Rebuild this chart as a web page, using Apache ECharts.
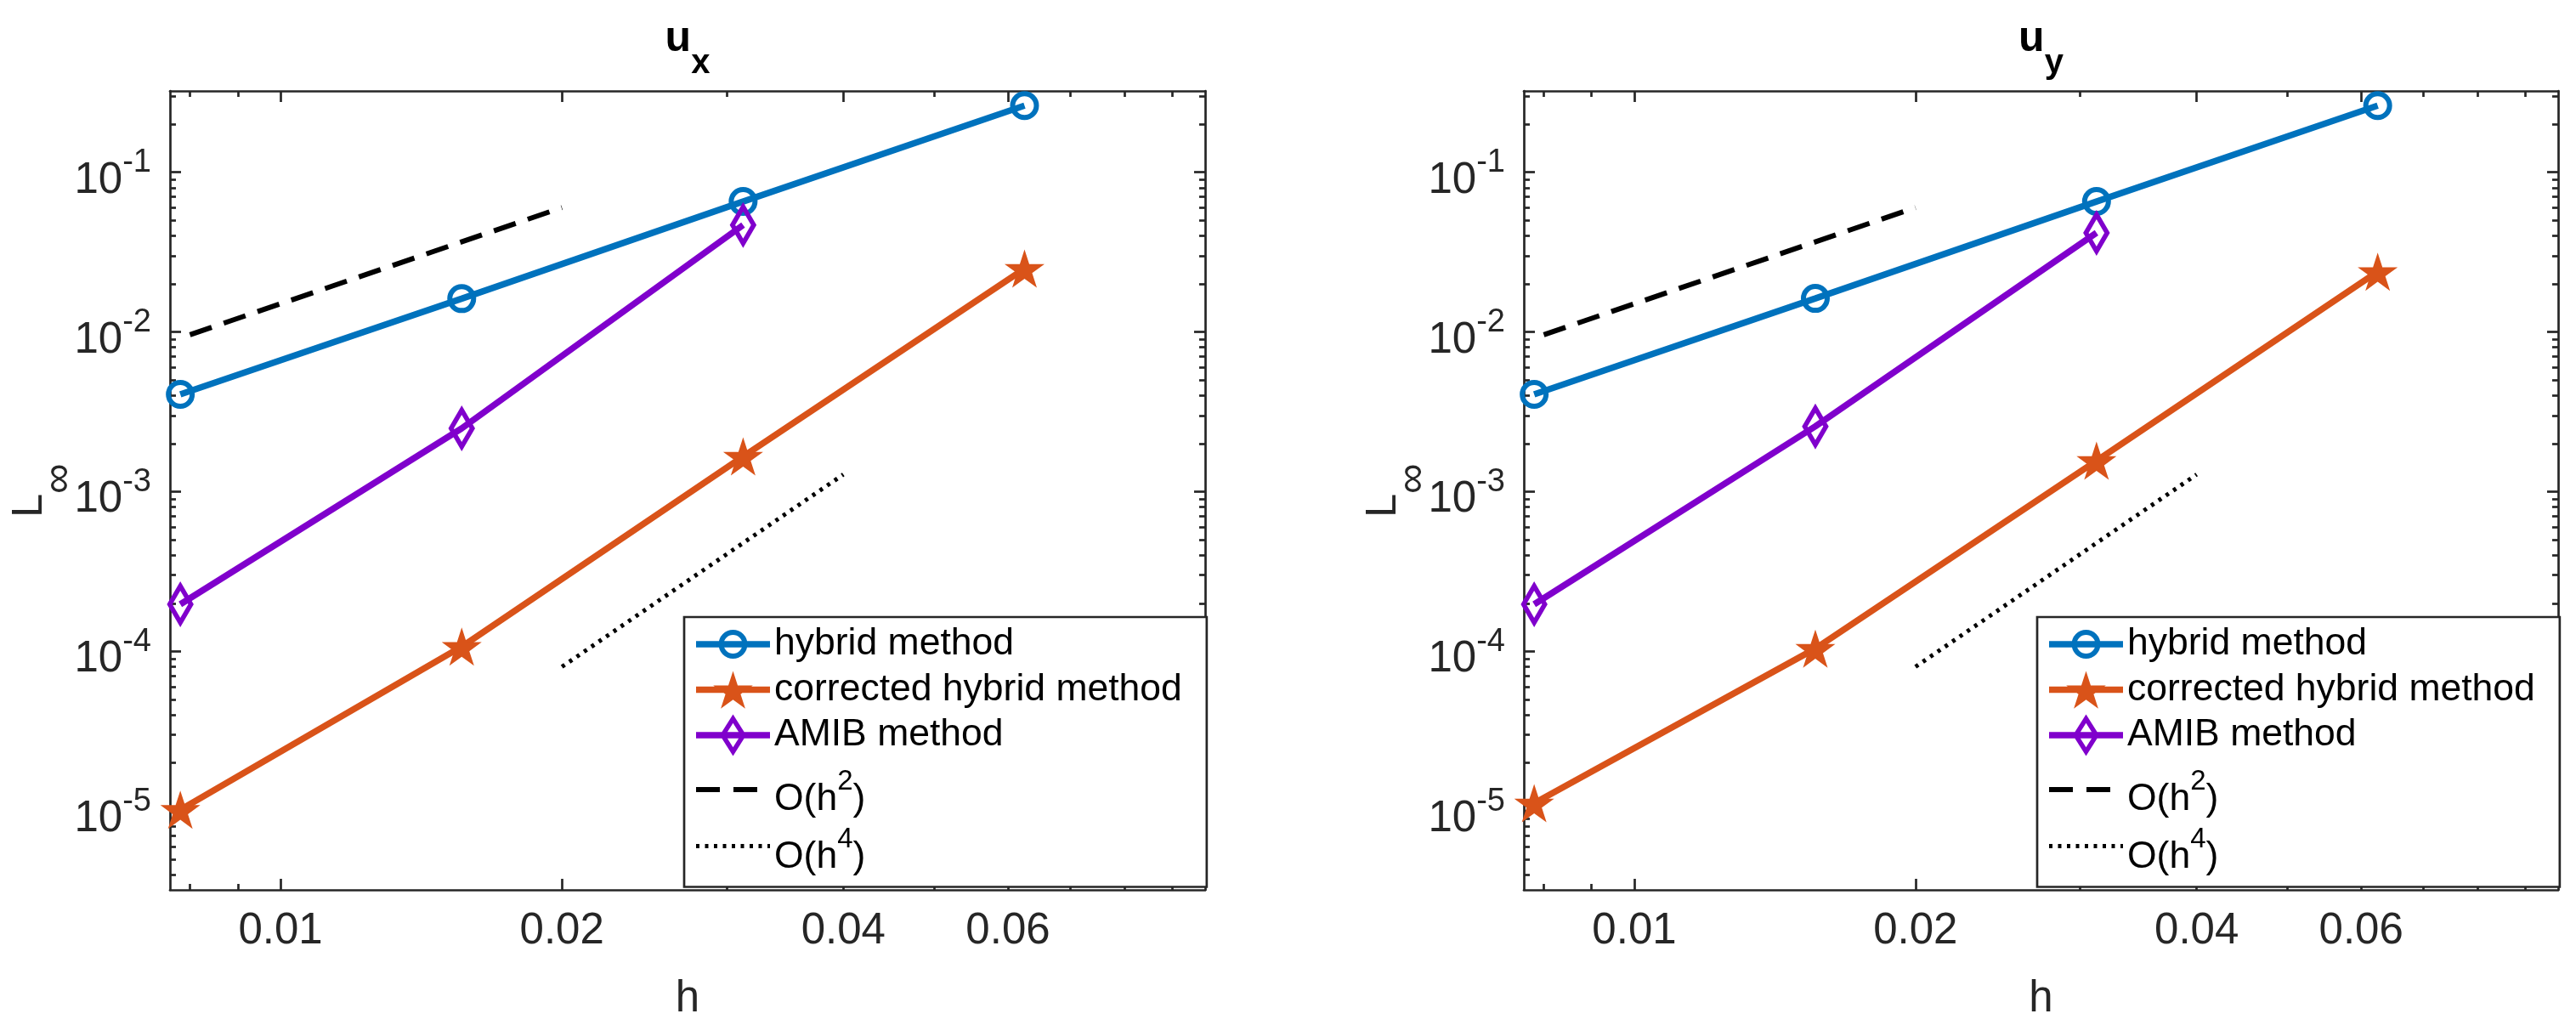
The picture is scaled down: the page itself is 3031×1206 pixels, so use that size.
<!DOCTYPE html>
<html>
<head>
<meta charset="utf-8">
<script src="https://cdn.jsdelivr.net/npm/echarts@6/dist/echarts.min.js"></script>
<style>
html,body{margin:0;padding:0;background:#ffffff;}
#chart{width:3031px;height:1206px;}
</style>
</head>
<body>
<div id="chart"></div>
<script>
// ---------------- data ----------------
const H_VALUES = [0.0078125, 0.015625, 0.03125, 0.0625];
const H_AMIB = [0.0078125, 0.015625, 0.03125];

const UX_HYBRID = [4.06e-3, 1.615e-2, 6.55e-2, 0.261];
const UX_CORRECTED = [1.02e-5, 1.07e-4, 1.66e-3, 2.49e-2];
const UX_AMIB = [1.97e-4, 2.49e-3, 4.67e-2];

const UY_HYBRID = [4.06e-3, 1.62e-2, 6.55e-2, 0.261];
const UY_CORRECTED = [1.12e-5, 1.04e-4, 1.56e-3, 2.38e-2];
const UY_AMIB = [1.97e-4, 2.56e-3, 4.17e-2];

const REF2_H = [0.008, 0.02];
const REF2_E = [0.0096, 0.06];
const REF4_H = [0.02, 0.04];
const REF4_E = [8.0e-5, 1.28e-3];

const X_TICKS = [0.01, 0.02, 0.04, 0.06];
const X_MINOR_TICKS = [0.008, 0.009, 0.03, 0.05, 0.07, 0.08, 0.09];
const Y_TICKS = [1e-5, 1e-4, 1e-3, 1e-2, 1e-1];
const Y_MINOR_TICKS = [
  4e-6, 5e-6, 6e-6, 7e-6, 8e-6, 9e-6,
  2e-5, 3e-5, 4e-5, 5e-5, 6e-5, 7e-5, 8e-5, 9e-5,
  2e-4, 3e-4, 4e-4, 5e-4, 6e-4, 7e-4, 8e-4, 9e-4,
  2e-3, 3e-3, 4e-3, 5e-3, 6e-3, 7e-3, 8e-3, 9e-3,
  2e-2, 3e-2, 4e-2, 5e-2, 6e-2, 7e-2, 8e-2, 9e-2,
  2e-1, 3e-1
];
const SERIES_NAMES = ['hybrid method', 'corrected hybrid method', 'AMIB method', 'O(h2)', 'O(h4)'];
const PANEL_SUBSCRIPTS = ['x', 'y'];
const PANELS = [
  {hybrid: UX_HYBRID, corrected: UX_CORRECTED, amib: UX_AMIB},
  {hybrid: UY_HYBRID, corrected: UY_CORRECTED, amib: UY_AMIB}
];

// ---------------- style ----------------
const X_MIN = 0.007616, X_MAX = 0.09752;
const Y_MIN = 3.21e-6, Y_MAX = 0.3225;
const AXIS_COLOR = '#262626';
const FONT = '"Liberation Sans", Arial, Helvetica, sans-serif';
const BLUE = '#0072BD', ORANGE = '#D95319', PURPLE = '#8000CC';
const LINE_W = 7.5;
const GRIDS = [
  {left: 200, top: 107, width: 1218, height: 940},
  {left: 1793, top: 107, width: 1217, height: 940}
];
const LEGEND_LEFT = [805, 2397];

// ---- symbol shapes (not data) ----
function starPoints(cx, cy, R) {
  const pts = [];
  for (let i = 0; i < 10; i++) {
    const r = i % 2 === 0 ? R : R * 0.381966;
    const a = -Math.PI / 2 + i * Math.PI / 5;
    pts.push([cx + r * Math.cos(a), cy + r * Math.sin(a)]);
  }
  return pts;
}
function polyPath(pts) {
  return 'M' + pts.map(p => p[0].toFixed(3) + ' ' + p[1].toFixed(3)).join(' L') + ' Z';
}
const STAR = 'path://' + polyPath(starPoints(50, 50, 50));

// legend icons: line bar + marker, drawn in an ICON_W x ICON_H box
const ICON_W = 87, ICON_H = 49;
const ICY = ICON_H / 2, ICX = ICON_W / 2;
function barPath() {
  const t = LINE_W / 2;
  return polyPath([[0, ICY - t], [ICON_W, ICY - t], [ICON_W, ICY + t], [0, ICY + t]]);
}
function anchors() {
  // tiny slivers that pin the icon bounding box to the full icon height
  return ' ' + polyPath([[ICX, 0], [ICX + 0.02, 0], [ICX, 0.02]]) +
         ' ' + polyPath([[ICX, ICON_H], [ICX + 0.02, ICON_H], [ICX, ICON_H - 0.02]]);
}
function circleIcon(ro, ri) {
  const outer = `M${ICX + ro} ${ICY} A${ro} ${ro} 0 1 1 ${ICX - ro} ${ICY} A${ro} ${ro} 0 1 1 ${ICX + ro} ${ICY} Z`;
  const inner = `M${ICX + ri} ${ICY} A${ri} ${ri} 0 1 0 ${ICX - ri} ${ICY} A${ri} ${ri} 0 1 0 ${ICX + ri} ${ICY} Z`;
  return 'path://' + barPath() + ' ' + outer + ' ' + inner + anchors();
}
function diamondIcon(a, b, d) {
  const f = 1 - d * Math.sqrt(1 / (a * a) + 1 / (b * b));
  const ai = a * f, bi = b * f;
  const outer = polyPath([[ICX, ICY - b], [ICX + a, ICY], [ICX, ICY + b], [ICX - a, ICY]]);
  const inner = polyPath([[ICX, ICY - bi], [ICX - ai, ICY], [ICX, ICY + bi], [ICX + ai, ICY]]);
  return 'path://' + barPath() + ' ' + outer + ' ' + inner + anchors();
}
function starIcon(R) {
  return 'path://' + barPath() + ' ' + polyPath(starPoints(ICX, ICY + R * 0.1, R)) + anchors();
}

function pairs(xs, ys) { return xs.map((x, i) => [x, ys[i]]); }

function xAxisDef(gi, pos, ticks, len, showLine) {
  return {
    type: 'log', logBase: 10, gridIndex: gi, position: pos, min: X_MIN, max: X_MAX,
    axisLine: {show: showLine, onZero: false, lineStyle: {color: AXIS_COLOR, width: 2.7}},
    axisTick: {show: true, inside: true, length: len, customValues: ticks,
      lineStyle: {color: AXIS_COLOR, width: 2.7}},
    axisLabel: {show: false},
    splitLine: {show: false}, minorTick: {show: false}, minorSplitLine: {show: false}
  };
}
function yAxisDef(gi, pos, ticks, len, showLine) {
  return {
    type: 'log', logBase: 10, gridIndex: gi, position: pos, min: Y_MIN, max: Y_MAX,
    axisLine: {show: showLine, onZero: false, lineStyle: {color: AXIS_COLOR, width: 2.7}},
    axisTick: {show: true, inside: true, length: len, customValues: ticks,
      lineStyle: {color: AXIS_COLOR, width: 2.7}},
    axisLabel: {show: false},
    splitLine: {show: false}, minorTick: {show: false}, minorSplitLine: {show: false}
  };
}

const xAxes = [], yAxes = [], series = [], titles = [], legends = [];

GRIDS.forEach((g, gi) => {
  // x axes
  const xMain = xAxisDef(gi, 'bottom', X_TICKS, 13, true);
  xMain.axisLabel = {
    show: true, customValues: X_TICKS, margin: 23.5, color: AXIS_COLOR,
    fontSize: 51, fontFamily: FONT, lineHeight: 51,
    formatter: v => String(+(+v).toPrecision(3))
  };
  xMain.name = 'h';
  xMain.nameLocation = 'middle';
  xMain.nameGap = 103;
  xMain.nameTextStyle = {fontSize: 51, fontFamily: FONT, color: AXIS_COLOR, lineHeight: 51};
  xAxes.push(xMain);
  xAxes.push(xAxisDef(gi, 'bottom', X_MINOR_TICKS, 7, false));
  xAxes.push(xAxisDef(gi, 'top', X_TICKS, 13, true));
  xAxes.push(xAxisDef(gi, 'top', X_MINOR_TICKS, 7, false));

  // y axes
  const yMain = yAxisDef(gi, 'left', Y_TICKS, 13, true);
  yMain.axisLabel = {
    show: true, customValues: Y_TICKS, margin: 22, color: AXIS_COLOR,
    fontFamily: FONT,
    formatter: v => '{b|10}{s|' + Math.round(Math.log10(v)) + '}',
    rich: {
      b: {fontSize: 51, fontFamily: FONT, color: AXIS_COLOR, lineHeight: 60, verticalAlign: 'top', padding: [14.5, 0, 0, 0]},
      s: {fontSize: 38, fontFamily: FONT, color: AXIS_COLOR, lineHeight: 60, verticalAlign: 'top', padding: [0, 0, 0, 0]}
    }
  };
  yMain.name = '{L|L}{s|\u221E}';
  yMain.nameLocation = 'middle';
  yMain.nameRotate = 90;
  yMain.nameGap = 110;
  yMain.nameMoveOverlap = false;
  yMain.nameTextStyle = {
    fontFamily: FONT, color: AXIS_COLOR,
    rich: {
      L: {fontSize: 50, fontFamily: FONT, color: AXIS_COLOR, lineHeight: 80, verticalAlign: 'top', padding: [0, 0, 0, 0]},
      s: {fontSize: 50, fontFamily: FONT, color: AXIS_COLOR, lineHeight: 80, verticalAlign: 'top', padding: [34.8, 0, 0, 0]}
    }
  };
  yAxes.push(yMain);
  yAxes.push(yAxisDef(gi, 'left', Y_MINOR_TICKS, 7, false));
  yAxes.push(yAxisDef(gi, 'right', Y_TICKS, 13, true));
  yAxes.push(yAxisDef(gi, 'right', Y_MINOR_TICKS, 7, false));

  const xi = gi * 4, yi = gi * 4;
  const p = PANELS[gi];
  series.push({
    name: SERIES_NAMES[0], type: 'line', xAxisIndex: xi, yAxisIndex: yi,
    data: pairs(H_VALUES, p.hybrid), color: BLUE,
    lineStyle: {color: BLUE, width: LINE_W},
    symbol: 'circle', symbolSize: 28,
    itemStyle: {color: 'rgba(255,255,255,0)', borderColor: BLUE, borderWidth: 6},
    emphasis: {disabled: true}, animation: false
  });
  series.push({
    name: SERIES_NAMES[1], type: 'line', xAxisIndex: xi, yAxisIndex: yi,
    data: pairs(H_VALUES, p.corrected), color: ORANGE,
    lineStyle: {color: ORANGE, width: LINE_W},
    symbol: STAR, symbolSize: [47, 45],
    itemStyle: {color: ORANGE, borderWidth: 0},
    emphasis: {disabled: true}, animation: false
  });
  series.push({
    name: SERIES_NAMES[2], type: 'line', xAxisIndex: xi, yAxisIndex: yi,
    data: pairs(H_AMIB, p.amib), color: PURPLE,
    lineStyle: {color: PURPLE, width: LINE_W},
    symbol: 'diamond', symbolSize: [25, 43],
    itemStyle: {color: 'rgba(255,255,255,0)', borderColor: PURPLE, borderWidth: 6},
    emphasis: {disabled: true}, animation: false
  });
  series.push({
    name: SERIES_NAMES[3], type: 'line', xAxisIndex: xi, yAxisIndex: yi,
    data: pairs(REF2_H, REF2_E), color: '#000000',
    lineStyle: {color: '#000000', width: 6, type: [27, 15]},
    symbol: 'none', emphasis: {disabled: true}, animation: false
  });
  series.push({
    name: SERIES_NAMES[4], type: 'line', xAxisIndex: xi, yAxisIndex: yi,
    data: pairs(REF4_H, REF4_E), color: '#000000',
    lineStyle: {color: '#000000', width: 5, type: [4, 6.5]},
    symbol: 'none', emphasis: {disabled: true}, animation: false
  });

  titles.push({
    text: '{u|u}{s|' + PANEL_SUBSCRIPTS[gi] + '}',
    left: g.left + g.width / 2, top: 10, textAlign: 'center', padding: 0,
    textStyle: {
      rich: {
        u: {fontSize: 50, fontWeight: 'bold', fontFamily: FONT, color: '#000', lineHeight: 90, verticalAlign: 'top', padding: [11, 0, 0, 0]},
        s: {fontSize: 40, fontWeight: 'bold', fontFamily: FONT, color: '#000', lineHeight: 90, verticalAlign: 'top', padding: [45, 0, 0, 0]}
      }
    }
  });

  legends.push({
    orient: 'vertical', left: LEGEND_LEFT[gi], top: 726,
    padding: [7.5, 29, 12.5, 11], itemGap: 4.5, itemWidth: ICON_W, itemHeight: ICON_H,
    symbolKeepAspect: true,
    backgroundColor: '#ffffff', borderColor: AXIS_COLOR, borderWidth: 2.7, borderRadius: 0,
    selectedMode: false,
    data: [
      {name: SERIES_NAMES[0], icon: circleIcon(17, 11), itemStyle: {color: BLUE, borderWidth: 0}},
      {name: SERIES_NAMES[1], icon: starIcon(24.5), itemStyle: {color: ORANGE, borderWidth: 0}},
      {name: SERIES_NAMES[2], icon: diamondIcon(15.5, 24.4, 5.5), itemStyle: {color: PURPLE, borderWidth: 0}},
      {name: SERIES_NAMES[3], itemStyle: {color: 'rgba(0,0,0,0)', borderWidth: 0}, lineStyle: {width: 6, color: '#000', type: [28, 16]}},
      {name: SERIES_NAMES[4], itemStyle: {color: 'rgba(0,0,0,0)', borderWidth: 0}, lineStyle: {width: 5, color: '#000', type: [4, 6.5]}}
    ],
    formatter: name => {
      if (name === 'O(h2)') return '{n4|O(h}{s4|2}{n4|)}';
      if (name === 'O(h4)') return '{n5|O(h}{s5|4}{n5|)}';
      return name;
    },
    textStyle: {
      fontSize: 44.5, fontFamily: FONT, color: '#000',
      rich: {
        n4: {fontSize: 44.5, fontFamily: FONT, color: '#000', lineHeight: 70, verticalAlign: 'top', padding: [24.5, 0, 0, 0]},
        s4: {fontSize: 33, fontFamily: FONT, color: '#000', lineHeight: 70, verticalAlign: 'top', padding: [9.5, 0, 0, 0]},
        n5: {fontSize: 44.5, fontFamily: FONT, color: '#000', lineHeight: 55, verticalAlign: 'top', padding: [18, 0, 0, 0]},
        s5: {fontSize: 33, fontFamily: FONT, color: '#000', lineHeight: 55, verticalAlign: 'top', padding: [3.5, 0, 0, 0]}
      }
    }
  });
});

const chart = echarts.init(document.getElementById('chart'), null, {renderer: 'canvas'});
chart.setOption({
  backgroundColor: '#ffffff',
  animation: false,
  title: titles,
  legend: legends,
  grid: GRIDS.map(g => Object.assign({containLabel: false, outerBoundsMode: 'none'}, g)),
  xAxis: xAxes,
  yAxis: yAxes,
  series: series
});
</script>
</body>
</html>
